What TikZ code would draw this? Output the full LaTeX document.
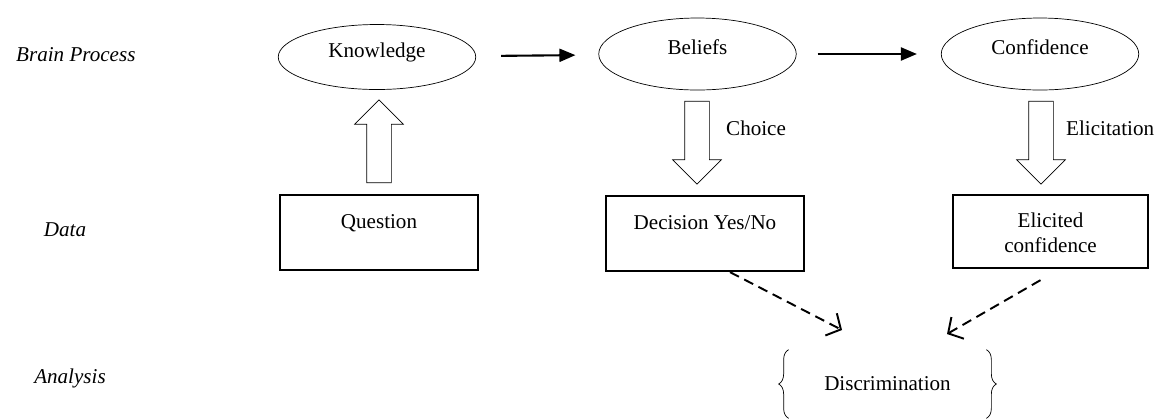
\documentclass[tikz,border=0pt]{standalone}
\usepackage{fontspec}
\setmainfont{Liberation Serif}
\usetikzlibrary{shapes.geometric, shapes.arrows, arrows.meta, decorations.pathreplacing}

\begin{document}
\begin{tikzpicture}[font=\fontsize{12}{14}\selectfont,
		process/.style={draw, ellipse, minimum width=3.95cm, minimum height=1.44cm, text height=8pt, text depth=7pt},
		databox/.style={draw, line width=1.3pt, rectangle, minimum width=3.96cm, inner sep=0pt, text height=0.66cm, text depth=0.84cm},
		blockarrow/.style={draw, single arrow, single arrow head extend=0.24cm, inner xsep=0pt, inner ysep=0.24cm, minimum height=1.66cm, rotate=#1},
		dasharrow/.style={line width=1.1pt, dash pattern=on 0.2cm off 0.12cm, -{Straight Barb[length=0.22cm, width=0.5cm]}},
		level/.style={font=\fontsize{12}{14}\selectfont\itshape}]
		\useasboundingbox (0,0) rectangle (23.14,-8.36);
		% rows
		\node[level, anchor=west] (brain) at (0.2,-1.1) {Brain Process};
		\node[level] (data) at (1.3,-4.6) {Data};
		\node[level] (analysis) at (1.4,-7.56) {Analysis};
		% brain process
		\node[process, minimum height=1.3cm] (know) at (7.54,-1.14) {Knowledge};
		\node[process] (belief) at (13.95,-1.08) {Beliefs};
		\node[process] (conf) at (20.8,-1.08) {Confidence};
		\draw[line width=1.2pt, -{Triangle[length=0.32cm, width=0.26cm]}, shorten <=0.5cm, shorten >=0.46cm] (know) -- (belief);
		\draw[line width=1.2pt, -{Triangle[length=0.32cm, width=0.26cm]}, shorten <=0.42cm, shorten >=0.48cm] (belief) -- (conf);
		% block arrows
		\node[blockarrow=90] (up) at (7.58,-2.95) {};
		\node[blockarrow=-90] (choice) at (13.94,-2.73) {};
		\node[blockarrow=-90] (elic) at (20.82,-2.73) {};
		\node[anchor=west] (choicetxt) at (14.4,-2.56) {Choice};
		\node[anchor=west] (elictxt) at (21.2,-2.56) {Elicitation};
		% data
		\node[databox] (quest) at (7.58,-4.65) {Question};
		\node[databox] (dec) at (14.1,-4.67) {Decision Yes/No};
		\node[databox, minimum width=3.9cm, align=center, text height=1.14cm, text depth=0.32cm] (eli) at (21.01,-4.63) {Elicited\\confidence};
		% analysis
		\node[minimum width=3.94cm, minimum height=1.36cm, inner sep=0pt] (disc) at (17.75,-7.68) {Discrimination};
		\draw[decorate, decoration={brace, amplitude=0.2cm}] (disc.south west) -- (disc.north west);
		\draw[decorate, decoration={brace, amplitude=0.2cm}] (disc.north east) -- (disc.south east);
		\coordinate (discL) at (16.84,-6.6);
		\coordinate (discR) at (18.94,-6.68);
		\draw[dasharrow] ([xshift=0.5cm]dec.south) -- (discL);
		\draw[dasharrow] ([xshift=-0.2cm, yshift=-0.22cm]eli.south) -- (discR);
	\end{tikzpicture}
\end{document}
